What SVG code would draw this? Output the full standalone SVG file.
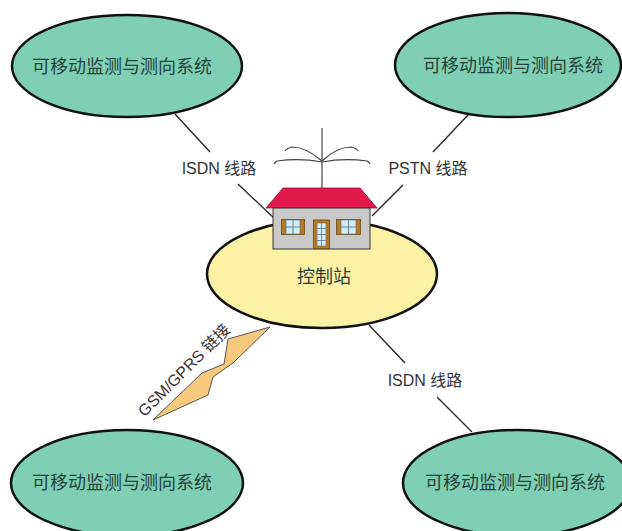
<svg xmlns="http://www.w3.org/2000/svg" width="622" height="531" viewBox="0 0 622 531">
  <style>
    .sys { fill: #7fcfb4; stroke: #111; stroke-width: 2.5; }
    .sys-text { font-family: "Noto Sans CJK SC", "Liberation Sans", sans-serif; font-size: 18px; fill: #24433a; text-anchor: middle; }
    .station { fill: #fcf2a6; stroke: #111; stroke-width: 2.5; }
    .link { stroke: #222; stroke-width: 1.3; fill: none; }
    .label { font-family: "Liberation Sans", "Noto Sans CJK SC", sans-serif; font-size: 16px; fill: #333; text-anchor: middle; }
    .antenna { stroke: #444; stroke-width: 1.2; fill: none; }
    .shutter { fill: #b77a24; stroke: #6b4410; stroke-width: 0.8; }
    .glass { fill: #cfeefb; stroke: #5a6b7a; stroke-width: 0.6; }
  </style>

  <!-- connectors -->
  <g id="connectors">
    <line class="link" x1="175" y1="114" x2="210" y2="152"/>
    <line class="link" x1="238" y1="184" x2="275" y2="219"/>
    <text class="label" x="219" y="174">ISDN 线路</text>

    <line class="link" x1="468" y1="115" x2="433" y2="152"/>
    <line class="link" x1="403" y1="185" x2="372" y2="216"/>
    <text class="label" x="428" y="174">PSTN 线路</text>

    <line class="link" x1="369" y1="325" x2="405" y2="363"/>
    <line class="link" x1="437" y1="397" x2="472" y2="432"/>
    <text class="label" x="425" y="386">ISDN 线路</text>

    <!-- wireless link bolt -->
    <polygon points="270,327 228,339 224,364 202,373 153,420 208,395 213,377 233,363" fill="#f7c97e" stroke="#555" stroke-width="1"/>
    <text class="label" font-size="15" fill="#555" transform="translate(188,374) rotate(-45)">GSM/GPRS 链接</text>
  </g>

  <!-- monitoring systems -->
  <g id="system-top-left">
    <ellipse class="sys" cx="127" cy="66" rx="115" ry="51"/>
    <text class="sys-text" x="122" y="73">可移动监测与测向系统</text>
  </g>
  <g id="system-top-right">
    <ellipse class="sys" cx="508" cy="65" rx="113" ry="52"/>
    <text class="sys-text" x="513" y="72">可移动监测与测向系统</text>
  </g>
  <g id="system-bottom-left">
    <ellipse class="sys" cx="127" cy="483" rx="116" ry="53"/>
    <text class="sys-text" x="122" y="489">可移动监测与测向系统</text>
  </g>
  <g id="system-bottom-right">
    <ellipse class="sys" cx="517" cy="483" rx="114" ry="53"/>
    <text class="sys-text" x="515" y="489">可移动监测与测向系统</text>
  </g>

  <!-- control station with house -->
  <g id="control-station">
    <ellipse class="station" cx="322" cy="274" rx="115" ry="54"/>
    <text class="sys-text" x="324" y="283" fill="#333">控制站</text>

    <!-- antenna -->
    <line class="antenna" x1="322" y1="128" x2="322" y2="189"/>
    <path class="antenna" d="M322,161 Q306,147 292,147 Q287,148 285,151"/>
    <path class="antenna" d="M322,162 Q300,158 277,161 Q275,162 274,164"/>
    <path class="antenna" d="M322,161 Q337,147 351,147 Q356,148 358,151"/>
    <path class="antenna" d="M322,162 Q344,158 367,161 Q369,162 370,164"/>

    <!-- roof -->
    <polygon points="283,188 360,188 377,208 266,208" fill="#e3184b" stroke="#8a1030" stroke-width="0.8"/>
    <!-- walls -->
    <rect x="273" y="208" width="97" height="41" fill="#c9c9c9" stroke="#333" stroke-width="1"/>

    <!-- left window -->
    <rect class="shutter" x="281.5" y="219.5" width="23" height="15"/>
    <rect class="glass" x="286" y="220" width="14" height="14"/>
    <line x1="293" y1="220" x2="293" y2="234" stroke="#5a6b7a" stroke-width="0.8"/>
    <line x1="286" y1="227" x2="300" y2="227" stroke="#5a6b7a" stroke-width="0.8"/>

    <!-- right window -->
    <rect class="shutter" x="336.5" y="219.5" width="24" height="15"/>
    <rect class="glass" x="341" y="220" width="15" height="14"/>
    <line x1="348.5" y1="220" x2="348.5" y2="234" stroke="#5a6b7a" stroke-width="0.8"/>
    <line x1="341" y1="227" x2="356" y2="227" stroke="#5a6b7a" stroke-width="0.8"/>

    <!-- door -->
    <rect class="shutter" x="313.5" y="220" width="16" height="28.5"/>
    <rect class="glass" x="317" y="223" width="9" height="23"/>
    <line x1="321.5" y1="223" x2="321.5" y2="246" stroke="#5a6b7a" stroke-width="0.7"/>
    <line x1="317" y1="228.5" x2="326" y2="228.5" stroke="#5a6b7a" stroke-width="0.7"/>
    <line x1="317" y1="234.5" x2="326" y2="234.5" stroke="#5a6b7a" stroke-width="0.7"/>
    <line x1="317" y1="240.5" x2="326" y2="240.5" stroke="#5a6b7a" stroke-width="0.7"/>
  </g>
</svg>
